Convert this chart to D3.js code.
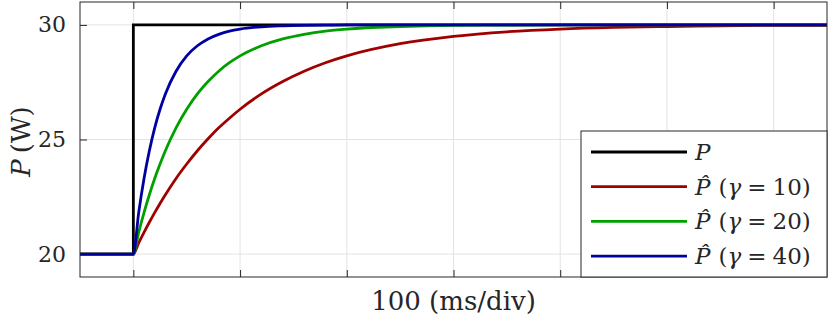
<!DOCTYPE html>
<html>
<head>
<meta charset="utf-8">
<script src="https://cdn.jsdelivr.net/npm/d3@7"></script>
<style>
  body { margin: 0; background: #fff; }
  svg { display: block; }
  text { fill: #262626; }
</style>
</head>
<body>
<div id="chart"></div>
<script>
// time in ms, step at t = 0
const times = [-50, 0, 5, 10, 15, 20, 25, 30, 40, 50, 60, 70, 80, 90, 100,
    120, 140, 160, 180, 200, 250, 300, 350, 400, 450, 500, 550, 600, 650];

const stepTimes = [-50, 0, 0, 650];
const stepPower = [20, 20, 30, 30];

const gamma10 = [20, 20, 20.49, 20.95, 21.39, 21.81, 22.21, 22.59, 23.30, 23.93, 24.51,
    25.03, 25.51, 25.93, 26.32, 26.99, 27.53, 27.98, 28.35, 28.65, 29.18, 29.50,
    29.70, 29.82, 29.89, 29.93, 29.96, 29.98, 29.98];
const gamma20 = [20, 20, 20.95, 21.81, 22.59, 23.30, 23.93, 24.51, 25.51, 26.32, 26.99,
    27.53, 27.98, 28.35, 28.65, 29.09, 29.39, 29.59, 29.73, 29.82, 29.93, 29.98,
    29.99, 30, 30, 30, 30, 30, 30];
const gamma40 = [20, 20, 21.81, 23.30, 24.51, 25.51, 26.32, 26.99, 27.98, 28.65, 29.09,
    29.39, 29.59, 29.73, 29.82, 29.92, 29.96, 29.98, 29.99, 30, 30, 30,
    30, 30, 30, 30, 30, 30, 30];

const xTicks = [0, 100, 200, 300, 400, 500, 600];
const yTicks = [20, 25, 30];

const series = [
    { name: 'P', hat: false, x: stepTimes, y: stepPower, color: '#000000' },
    { name: 'P', hat: true, gamma: 10, x: times, y: gamma10, color: '#a00000' },
    { name: 'P', hat: true, gamma: 20, x: times, y: gamma20, color: '#00a000' },
    { name: 'P', hat: true, gamma: 40, x: times, y: gamma40, color: '#0000a0' }
];

const font = 'DejaVu Serif';
const width = 830, height = 322;
const margin = { left: 80, right: 3, top: 2, bottom: 45 };
const iw = width - margin.left - margin.right;
const ih = height - margin.top - margin.bottom;

const x = d3.scaleLinear().domain([-50, 650]).range([0, iw]);
const y = d3.scaleLinear().domain([19, 31]).range([ih, 0]);

const svg = d3.select('#chart').append('svg')
    .attr('width', width)
    .attr('height', height)
    .attr('font-family', font);

const g = svg.append('g')
    .attr('transform', `translate(${margin.left},${margin.top})`);

// grid
g.append('g')
    .selectAll('line')
    .data(xTicks)
    .join('line')
    .attr('x1', d => x(d)).attr('x2', d => x(d))
    .attr('y1', 0).attr('y2', ih)
    .attr('stroke', '#e3e3e3').attr('stroke-width', 1);
g.append('g')
    .selectAll('line')
    .data(yTicks)
    .join('line')
    .attr('x1', 0).attr('x2', iw)
    .attr('y1', d => y(d)).attr('y2', d => y(d))
    .attr('stroke', '#e3e3e3').attr('stroke-width', 1);

// axes (ticks inward, box on)
const axisStyle = (sel) => {
    sel.select('.domain').remove();
    sel.selectAll('line').attr('stroke', '#262626');
    sel.attr('font-family', font);
};
g.append('g').attr('transform', `translate(0,${ih})`)
    .call(d3.axisBottom(x).tickValues(xTicks).tickSize(-7).tickFormat(''))
    .call(axisStyle);
g.append('g')
    .call(d3.axisTop(x).tickValues(xTicks).tickSize(-7).tickFormat(''))
    .call(axisStyle);
const yAxis = g.append('g')
    .call(d3.axisLeft(y).tickValues(yTicks).tickSize(-7).tickPadding(14))
    .call(axisStyle);
yAxis.selectAll('text')
    .attr('font-size', 22)
    .attr('fill', '#262626');
g.append('g').attr('transform', `translate(${iw},0)`)
    .call(d3.axisRight(y).tickValues(yTicks).tickSize(-7).tickFormat(''))
    .call(axisStyle);

// lines
svg.append('defs').append('clipPath').attr('id', 'clip')
    .append('rect').attr('width', iw).attr('height', ih);

const line = d3.line()
    .x(d => x(d[0]))
    .y(d => y(d[1]))
    .curve(d3.curveMonotoneX);
const stepLine = d3.line()
    .x(d => x(d[0]))
    .y(d => y(d[1]));

g.append('g')
    .attr('clip-path', 'url(#clip)')
    .selectAll('path')
    .data(series)
    .join('path')
    .attr('fill', 'none')
    .attr('stroke', d => d.color)
    .attr('stroke-width', 2.8)
    .attr('d', d => {
        const pts = d.x.map((t, i) => [t, d.y[i]]);
        return d.hat ? line(pts) : stepLine(pts);
    });

// box
g.append('rect')
    .attr('width', iw).attr('height', ih)
    .attr('fill', 'none')
    .attr('stroke', '#262626')
    .attr('stroke-width', 1);

// axis labels
const yl = svg.append('text')
    .attr('transform', `translate(30,${margin.top + ih / 2 + 2}) rotate(-90)`)
    .attr('text-anchor', 'middle')
    .attr('font-size', 26);
yl.append('tspan').attr('font-style', 'italic').text('P');
yl.append('tspan').attr('dx', 6).text('(W)');

svg.append('text')
    .attr('x', margin.left + x(300))
    .attr('y', 310)
    .attr('text-anchor', 'middle')
    .attr('font-size', 26)
    .text('100 (ms/div)');

// legend
const lg = svg.append('g').attr('transform', 'translate(581,131)');
lg.append('rect')
    .attr('width', 246).attr('height', 146)
    .attr('fill', '#fff')
    .attr('stroke', '#262626')
    .attr('stroke-width', 1);

const rows = lg.selectAll('g.row')
    .data(series)
    .join('g')
    .attr('class', 'row')
    .attr('transform', (d, i) => `translate(0,${21 + i * 34.7})`);
rows.append('line')
    .attr('x1', 10).attr('x2', 106)
    .attr('stroke', d => d.color)
    .attr('stroke-width', 2.8);
const lt = rows.append('text')
    .attr('x', 114)
    .attr('y', 8)
    .attr('font-size', 23);
lt.append('tspan')
    .attr('font-style', 'italic')
    .text(d => d.hat ? 'P\u0302' : 'P');
const hat = lt.filter(d => d.hat);
hat.append('tspan').attr('dx', 8).text('(');
hat.append('tspan').attr('font-style', 'italic').text('\u03b3');
hat.append('tspan').attr('dx', 6).text('=');
hat.append('tspan').attr('dx', 6).text(d => `${d.gamma})`);
</script>
</body>
</html>
